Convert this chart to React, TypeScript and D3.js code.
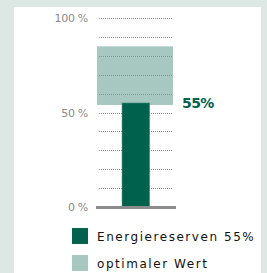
import * as d3 from 'd3'

const reserveValue = 55
const optimalRange = [54, 85]
const tickLabels = [0, 50, 100]
const gridValues = [10, 20, 30, 40, 50, 60, 70, 80, 90, 100]
const legendItems = ['Energiereserven 55%', 'optimaler Wert']

const colors = {
  dark: '#00614d',
  light: '#a6c8c0',
  outer: '#dde7e3',
  grid: '#8f8f8f',
  base: '#8c8c8c',
  label: '#8a8a8a',
}

export default function App() {
  const width = 267
  const height = 273
  const y = d3.scaleLinear().domain([0, 100]).range([207, 18])
  const x = d3.scaleLinear().domain([0, 1]).range([97, 173])
  const font = '"DejaVu Sans", Verdana, sans-serif'

  return (
    <svg
      width={width}
      height={height}
      viewBox={`0 0 ${width} ${height}`}
      style={{ position: 'absolute', left: 0, top: 0, display: 'block' }}
    >
      <rect x={0} y={0} width={width} height={height} fill={colors.outer} />
      <rect x={14} y={7} width={247} height={height - 7} fill="white" />

      <rect
        x={x(0)}
        y={y(optimalRange[1])}
        width={x(1) - x(0)}
        height={y(optimalRange[0]) - y(optimalRange[1])}
        fill={colors.light}
      />

      {gridValues.map((tick) => (
        <line
          key={tick}
          x1={x(0) + 2}
          x2={x(1) - 1}
          y1={Math.round(y(tick)) + 0.5}
          y2={Math.round(y(tick)) + 0.5}
          stroke={colors.grid}
          strokeWidth="1"
          strokeDasharray="1 1"
        />
      ))}

      <rect
        x={x(0.33)}
        y={y(reserveValue)}
        width={x(0.69) - x(0.33)}
        height={y(0) - y(reserveValue)}
        fill={colors.dark}
        stroke="#2e7d69"
        strokeWidth="0.6"
      />

      <rect x={x(0) - 1} y={y(0) - 1} width={x(1) - x(0) + 4} height={3} fill={colors.base} />

      {tickLabels.map((tick) => (
        <text
          key={tick}
          x={88}
          y={y(tick) + 4}
          textAnchor="end"
          fontSize="11"
          fontFamily={font}
          fill={colors.label}
          letterSpacing="-0.3"
        >
          {tick} %
        </text>
      ))}

      <text
        x={182}
        y={y(reserveValue) + 5}
        fontSize="14"
        fontWeight="bold"
        fontFamily={font}
        fill={colors.dark}
        letterSpacing="-0.6"
      >
        {reserveValue}%
      </text>

      {legendItems.map((label, i) => (
        <g key={label} transform={`translate(72,${228 + i * 27})`}>
          <rect x={0} y={0} width={16} height={16} fill={i === 0 ? colors.dark : colors.light} />
          <text
            x={25}
            y={13}
            fontSize="12"
            fontFamily={font}
            fill="#111"
            letterSpacing="1.55"
          >
            {label}
          </text>
        </g>
      ))}
    </svg>
  )
}
